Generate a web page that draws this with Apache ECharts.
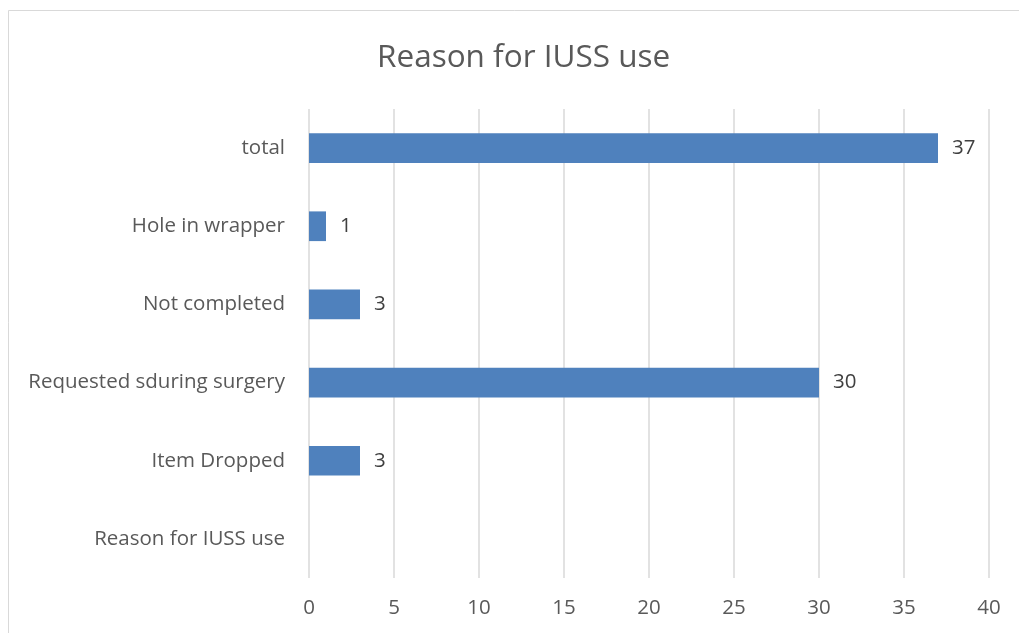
<!DOCTYPE html>
<html>
<head>
<meta charset="utf-8">
<script src="https://cdn.jsdelivr.net/npm/echarts@6/dist/echarts.min.js"></script>
<style>
  html, body { margin: 0; padding: 0; background: #fff; }
  #chart { width: 1019px; height: 633px; }
</style>
</head>
<body>
<div id="chart"></div>
<script>
// Reasons, bottom row first (ECharts category y-axis grows upward)
const categories = ['Reason for IUSS use', 'Item Dropped', 'Requested sduring surgery', 'Not completed', 'Hole in wrapper', 'total'];
const counts = [null, 3, 30, 3, 1, 37];
const xTicks = [0, 5, 10, 15, 20, 25, 30, 35, 40];

const FONT = '"Open Sans", sans-serif';
const chart = echarts.init(document.getElementById('chart'));

chart.setOption({
  animation: false,
  backgroundColor: '#ffffff',
  title: {
    text: 'Reason for IUSS use',
    left: 372,
    top: 37,
    textStyle: { fontFamily: FONT, fontSize: 31.5, fontWeight: 'normal', color: '#595959' }
  },
  graphic: [{
    type: 'rect',
    shape: { x: 8.5, y: 10.5, width: 1200, height: 800 },
    style: { fill: 'none', stroke: '#d9d9d9', lineWidth: 1 },
    silent: true
  }],
  grid: { left: 309, right: 30, top: 109, bottom: 55 },
  xAxis: {
    type: 'value',
    min: xTicks[0],
    max: xTicks[xTicks.length - 1],
    interval: xTicks[1] - xTicks[0],
    axisLine: { show: false },
    axisTick: { show: false },
    splitLine: { show: true, lineStyle: { color: '#d9d9d9', width: 1.5 } },
    axisLabel: { margin: 20, fontFamily: FONT, fontSize: 20.5, color: '#595959' }
  },
  yAxis: {
    type: 'category',
    data: categories,
    axisLine: { show: false },
    axisTick: { show: false },
    axisLabel: { margin: 24, fontFamily: FONT, fontSize: 20.5, color: '#595959' }
  },
  series: [{
    type: 'bar',
    data: counts,
    barWidth: '38%',
    itemStyle: { color: '#4f81bd' },
    label: {
      show: true,
      position: 'right',
      distance: 14,
      fontFamily: FONT,
      fontSize: 20.5,
      color: '#404040'
    }
  }]
});
</script>
</body>
</html>
